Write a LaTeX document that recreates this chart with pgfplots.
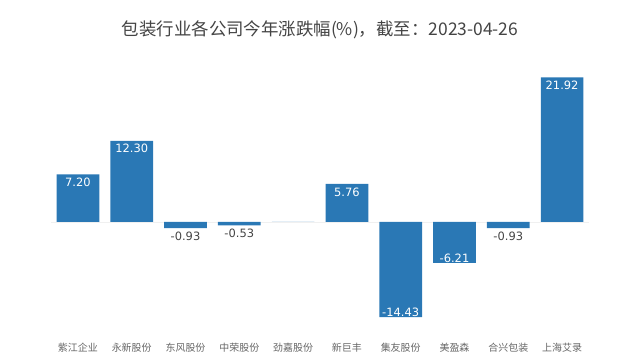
\documentclass[border=0pt]{standalone}
\usepackage{fontspec}
\setmainfont{Noto Sans CJK SC}
\newfontfamily\numfont{DejaVu Sans}
\usepackage{pgfplots}
\pgfplotsset{compat=1.18}
\definecolor{barblue}{HTML}{2A78B5}
\definecolor{titlegray}{HTML}{444444}
\definecolor{catgray}{HTML}{666666}
\begin{document}
\begin{tikzpicture}[x=1bp,y=1bp]
\useasboundingbox (0,0) rectangle (640,356);
\node[font=\fontsize{17.5}{19}\selectfont, text=titlegray] at (320,326) {包装行业各公司今年涨跌幅(\%)，截至：2023-04-26};
\begin{axis}[
  at={(51bp,16bp)}, anchor=south west,
  scale only axis, width=538bp, height=284bp,
  xmin=-0.5, xmax=9.5, ymin=-17.88, ymax=25.15,
  axis line style={draw=none},
  xtick={0,...,9}, major tick length=0pt,
  xticklabels={紫江企业,永新股份,东风股份,中荣股份,劲嘉股份,新巨丰,集友股份,美盈森,合兴包装,上海艾录},
  xticklabel style={font=\fontsize{10}{12}\selectfont, text=catgray},
  ytick={0}, yticklabels={}, ymajorgrids, grid style={black!6, line width=0.6pt},
  clip=false,
]
\addplot[ybar, bar width=42.7bp, fill=barblue, draw=none] coordinates {
  (0,7.20) (1,12.30) (2,-0.93) (3,-0.53) (4,0) (5,5.76) (6,-14.43) (7,-6.21) (8,-0.93) (9,21.92)};
% labels inside near top (positive)
\addplot[only marks, mark=none, point meta=explicit symbolic, nodes near coords,
  every node near coord/.append style={anchor=north, text=white, font=\numfont\fontsize{11.5}{13}\selectfont}] coordinates {
  (0,7.20) [7.20] (1,12.30) [12.30] (5,5.76) [5.76] (9,21.92) [21.92]};
% labels inside near bottom (large negatives)
\addplot[only marks, mark=none, point meta=explicit symbolic, nodes near coords,
  every node near coord/.append style={anchor=south, yshift=-3bp, text=white, font=\numfont\fontsize{11.5}{13}\selectfont}] coordinates {
  (6,-14.43) [-14.43] (7,-6.21) [-6.21]};
% labels below small negatives
\addplot[only marks, mark=none, point meta=explicit symbolic, nodes near coords,
  every node near coord/.append style={anchor=north, text=titlegray, font=\numfont\fontsize{11.5}{13}\selectfont}] coordinates {
  (2,-0.93) [-0.93] (3,-0.53) [-0.53] (8,-0.93) [-0.93]};
\end{axis}
\end{tikzpicture}
\end{document}
